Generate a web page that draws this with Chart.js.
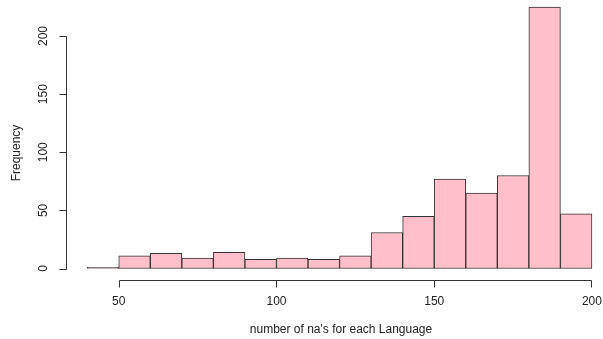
<!DOCTYPE html>
<html>
<head>
<meta charset="utf-8">
<script src="https://cdn.jsdelivr.net/npm/chart.js@4"></script>
<style>
  html, body { margin: 0; padding: 0; background: #fff; }
  #wrap { width: 603px; height: 339px; }
</style>
</head>
<body>
<div id="wrap"><canvas id="hist"></canvas></div>
<script>
// ----------------------------
// DATA
// ----------------------------
const binStarts = [40, 50, 60, 70, 80, 90, 100, 110, 120, 130, 140, 150, 160, 170, 180, 190];
const binWidth = 10;
const counts = [1, 11, 13, 9, 14, 8, 9, 8, 11, 31, 45, 77, 65, 80, 225, 47];
const xTicks = [50, 100, 150, 200];
const yTicks = [0, 50, 100, 150, 200];

const FONT = "'Liberation Sans', Arial, sans-serif";

// ----------------------------
// AXES (drawn base-graphics style, offset from the bars)
// ----------------------------
const axesPlugin = {
  id: "rAxes",
  afterDraw(chart) {
    const c = chart.ctx;
    const xs = chart.scales.x;
    const ys = chart.scales.y;
    const area = chart.chartArea;
    c.save();
    c.strokeStyle = "#333";
    c.fillStyle = "#222";
    c.lineWidth = 1;
    c.font = "12px " + FONT;

    // y axis
    const yx = Math.round(area.left) - 0.5;
    c.beginPath();
    c.moveTo(yx, Math.round(ys.getPixelForValue(yTicks[0])) + 0.5);
    c.lineTo(yx, Math.round(ys.getPixelForValue(yTicks[yTicks.length - 1])) + 0.5);
    yTicks.forEach((t) => {
      const py = Math.round(ys.getPixelForValue(t)) + 0.5;
      c.moveTo(yx, py);
      c.lineTo(yx - 7, py);
    });
    c.stroke();
    yTicks.forEach((t) => {
      const py = ys.getPixelForValue(t);
      c.save();
      c.translate(44, py);
      c.rotate(-Math.PI / 2);
      c.textAlign = "center";
      c.textBaseline = "middle";
      c.fillText(String(t), 0, 0);
      c.restore();
    });

    // x axis
    const xy = Math.round(area.bottom) + 1.5;
    c.beginPath();
    c.moveTo(Math.round(xs.getPixelForValue(xTicks[0])) + 0.5, xy);
    c.lineTo(Math.round(xs.getPixelForValue(xTicks[xTicks.length - 1])) - 0.5, xy);
    xTicks.forEach((t, i) => {
      let px = Math.round(xs.getPixelForValue(t)) + 0.5;
      if (i === xTicks.length - 1) px -= 1;
      c.moveTo(px, xy);
      c.lineTo(px, xy + 7);
    });
    c.stroke();
    c.textAlign = "center";
    c.textBaseline = "middle";
    xTicks.forEach((t) => {
      c.fillText(String(t), xs.getPixelForValue(t), 302);
    });

    // titles
    c.fillText("number of na's for each Language", 341, 330);
    c.save();
    c.translate(17, 153);
    c.rotate(-Math.PI / 2);
    c.fillText("Frequency", 0, 0);
    c.restore();
    c.restore();
  },
};

// ----------------------------
// HISTOGRAM
// ----------------------------
const points = binStarts.map((s, i) => ({ x: s + binWidth / 2, y: counts[i] }));

new Chart(document.getElementById("hist"), {
  type: "bar",
  data: {
    datasets: [
      {
        data: points,
        backgroundColor: "#FFC0CB",
        borderColor: "#333",
        borderWidth: 1,
        borderSkipped: false,
        barPercentage: 1,
        categoryPercentage: 1,
      },
    ],
  },
  options: {
    responsive: true,
    maintainAspectRatio: false,
    animation: false,
    layout: { padding: { left: 67, right: 0, top: 0, bottom: 60 } },
    plugins: { legend: { display: false }, tooltip: { enabled: false } },
    scales: {
      x: { type: "linear", min: 33.6, max: 203.5, offset: false, display: false },
      y: { type: "linear", min: -9, max: 231, display: false },
    },
  },
  plugins: [axesPlugin],
});
</script>
</body>
</html>
